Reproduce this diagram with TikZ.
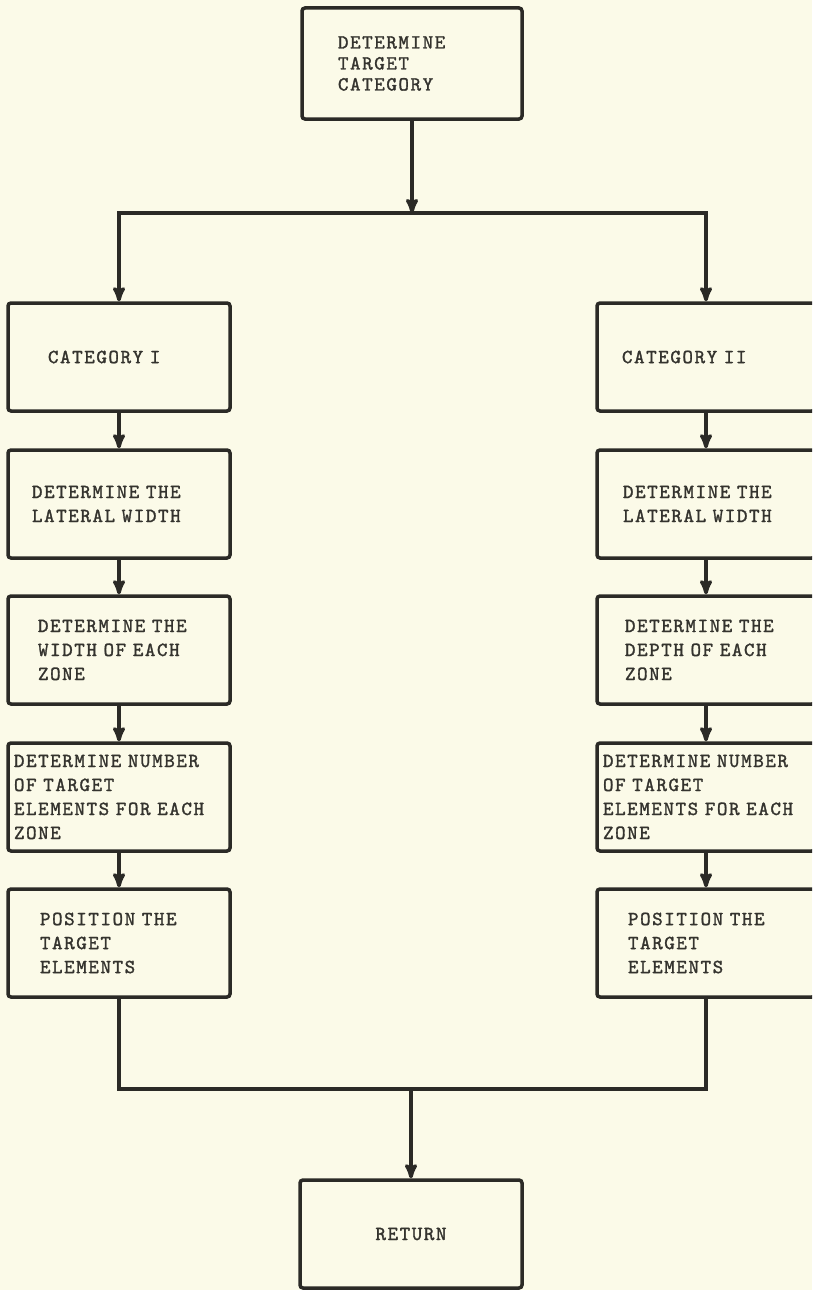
\documentclass[tikz,border=0pt]{standalone}
\usepackage{fontspec}
\newfontfamily\typewriter{lmmono10-regular.otf}[LetterSpace=8,FakeBold=1.5]
\usepackage{tikz}
\usetikzlibrary{arrows}
\tikzset{>=stealth'}
\definecolor{paper}{HTML}{FBFAE8}
\definecolor{ink}{HTML}{2B2A26}
\definecolor{typed}{HTML}{34332E}
\newcommand{\typed}[1]{\typewriter\fontsize{20}{#1}\selectfont}
\tikzset{
  stepbox/.style={draw=ink,line width=3.5pt,rounded corners=3pt,
    minimum height=108pt,inner sep=0pt,align=left,text=typed,
    font=\typed{24}},
  leftbox/.style={stepbox,minimum width=222pt},
  rightbox/.style={stepbox,minimum width=218pt},
  flow/.style={draw=ink,line width=3.5pt},
}

\begin{document}
\begin{tikzpicture}[x=1pt,y=-1pt]
\useasboundingbox[fill=paper] (0,0) rectangle (812,1290);
\clip (0,0) rectangle (812,1290);
% start
\node[stepbox,minimum width=220pt,minimum height=111pt,text width=148pt,
  font=\typed{21}] (top) at (412,63.5)
  {DETERMINE\\TARGET\\CATEGORY};
\coordinate (split) at (412,213);
% left column
\node[leftbox,text width=142pt] (cat1) at (119,357) {CATEGORY I};
\node[leftbox,text width=174pt] (lw1) at (119,504) {DETERMINE THE\\LATERAL WIDTH};
\node[leftbox,text width=162pt] (wz1) at (119,650) {DETERMINE THE\\WIDTH OF EACH\\ZONE};
\node[leftbox,text width=210pt] (num1) at (119,797)
  {DETERMINE NUMBER\\OF TARGET\\ELEMENTS FOR EACH\\ZONE};
\node[leftbox,text width=158pt] (pos1) at (119,943) {POSITION THE\\TARGET\\ELEMENTS};
% right column
\node[rightbox,text width=168pt] (cat2) at (706,357) {CATEGORY II};
\node[rightbox,text width=166pt] (lw2) at (706,504) {DETERMINE THE\\LATERAL WIDTH};
\node[rightbox,text width=162pt] (dz2) at (706,650) {DETERMINE THE\\DEPTH OF EACH\\ZONE};
\node[rightbox,text width=206pt] (num2) at (706,797)
  {DETERMINE NUMBER\\OF TARGET\\ELEMENTS FOR EACH\\ZONE};
\node[rightbox,text width=156pt] (pos2) at (706,943) {POSITION THE\\TARGET\\ELEMENTS};
% end
\coordinate (merge) at (411,1089);
\node[stepbox,minimum width=222pt,align=center] (ret) at (411,1234) {RETURN};
% flow lines
\draw[flow,->] (top) -- (split);
\draw[flow,->] (split) -| (cat1);
\draw[flow,->] (split) -| (cat2);
\foreach \a/\b in {cat1/lw1,lw1/wz1,wz1/num1,num1/pos1,cat2/lw2,lw2/dz2,dz2/num2,num2/pos2}
  \draw[flow,->] (\a) -- (\b);
\draw[flow] (pos1) |- (merge) -| (pos2);
\draw[flow,->] (merge) -- (ret);
\end{tikzpicture}
\end{document}
